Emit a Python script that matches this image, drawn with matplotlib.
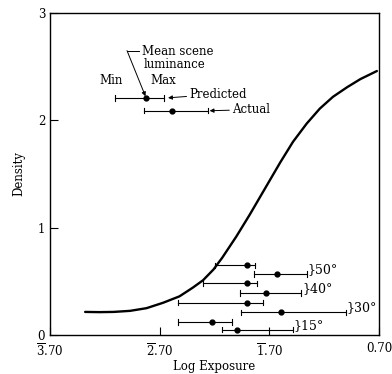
import numpy as np
import matplotlib
matplotlib.use("Agg")
import matplotlib.pyplot as plt

plt.rcParams['font.family'] = ['DejaVu Serif']
plt.rcParams['mathtext.fontset'] = 'dejavuserif'

# =========================
# CHARACTERISTIC CURVE
# =========================
curve_logE = [-1.98, -1.85, -1.72, -1.57, -1.42, -1.27, -1.12, -1.00, -0.905,
              -0.81, -0.73, -0.60, -0.48, -0.40, -0.32, -0.20, -0.085, 0.04,
              0.16, 0.28, 0.41, 0.53, 0.68]
curve_density = [0.215, 0.213, 0.215, 0.225, 0.25, 0.30, 0.36, 0.44, 0.51,
                 0.61, 0.72, 0.92, 1.12, 1.26, 1.40, 1.61, 1.80, 1.97,
                 2.11, 2.22, 2.31, 2.385, 2.46]

# =========================
# RANGE BARS: min, mean, max log exposure at a density
# =========================
bar_density = [2.21, 2.09, 0.65, 0.57, 0.48, 0.39, 0.30, 0.21, 0.12, 0.05]
bar_min = [-1.707, -1.443, -0.796, -0.440, -0.905, -0.568, -1.133, -0.559, -1.133, -0.732]
bar_mean = [-1.425, -1.188, -0.504, -0.231, -0.504, -0.331, -0.504, -0.194, -0.823, -0.595]
bar_max = [-1.261, -0.860, -0.431, 0.043, -0.413, -0.012, -0.358, 0.398, -0.641, -0.085]

# angle groups: label, x of brace, density of brace
angle_labels = ["50°", "40°", "30°", "15°"]
angle_x = [0.05, 0.0, 0.40, -0.08]
angle_y = [0.61, 0.435, 0.255, 0.085]

xtick_vals = [-2.3, -1.3, -0.3, 0.7]
xtick_labels = [r'$\overline{3}$.70', r'$\overline{2}$.70', r'$\overline{1}$.70', '0.70']

fig = plt.figure(figsize=(3.92, 3.74), dpi=100)
ax = fig.add_axes([0.1276, 0.1043, 0.8394, 0.8607])

ax.plot(curve_logE, curve_density, color='black', lw=1.7,
        solid_capstyle='round', solid_joinstyle='round')

for d, lo, mid, hi in zip(bar_density, bar_min, bar_mean, bar_max):
    ax.plot([lo, hi], [d, d], color='black', lw=0.8)
    ax.plot([lo, lo], [d - 0.025, d + 0.025], color='black', lw=0.8)
    ax.plot([hi, hi], [d - 0.025, d + 0.025], color='black', lw=0.8)
    ax.plot(mid, d, 'o', color='black', ms=3.5)

for lab, x, y in zip(angle_labels, angle_x, angle_y):
    ax.text(x, y, "}" + lab, fontsize=9, va='center', ha='left')

# =========================
# KEY ANNOTATIONS
# =========================
ax.text(-1.46, 2.64, "Mean scene", fontsize=8.5, va='center', ha='left')
ax.text(-1.45, 2.52, "luminance", fontsize=8.5, va='center', ha='left')
ax.plot([-1.598, -1.49], [2.65, 2.65], color='black', lw=0.7)
ax.annotate("", xy=(-1.430, 2.225), xytext=(-1.598, 2.65),
            arrowprops=dict(arrowstyle='-|>', color='black', lw=0.7,
                            mutation_scale=6, shrinkA=0, shrinkB=0))
ax.text(-1.744, 2.31, "Min", fontsize=8.5, va='bottom', ha='center')
ax.text(-1.270, 2.31, "Max", fontsize=8.5, va='bottom', ha='center')
ax.annotate("Predicted", xy=(-1.224, 2.21), xytext=(-1.03, 2.245),
            fontsize=8.5, va='center', ha='left',
            arrowprops=dict(arrowstyle='-|>', color='black', lw=0.7,
                            mutation_scale=6, shrinkA=0, shrinkB=0))
ax.annotate("Actual", xy=(-0.845, 2.09), xytext=(-0.64, 2.10),
            fontsize=8.5, va='center', ha='left',
            arrowprops=dict(arrowstyle='-|>', color='black', lw=0.7,
                            mutation_scale=6, shrinkA=0, shrinkB=0))

ax.set_xlim(-2.3, 0.7)
ax.set_ylim(0, 3)
ax.set_xticks(xtick_vals)
ax.set_xticklabels(xtick_labels)
ax.set_yticks([0, 1, 2, 3])
ax.tick_params(direction='in', length=6, width=0.8, labelsize=8.5)
ax.tick_params(axis='x', pad=5)
for s in ax.spines.values():
    s.set_linewidth(1.0)

ax.set_xlabel("Log Exposure", fontsize=8.5)
ax.xaxis.set_label_coords(0.5, -0.078)
ax.set_ylabel("Density", fontsize=8.5, labelpad=9)

fig.savefig("out.png", dpi=100)
